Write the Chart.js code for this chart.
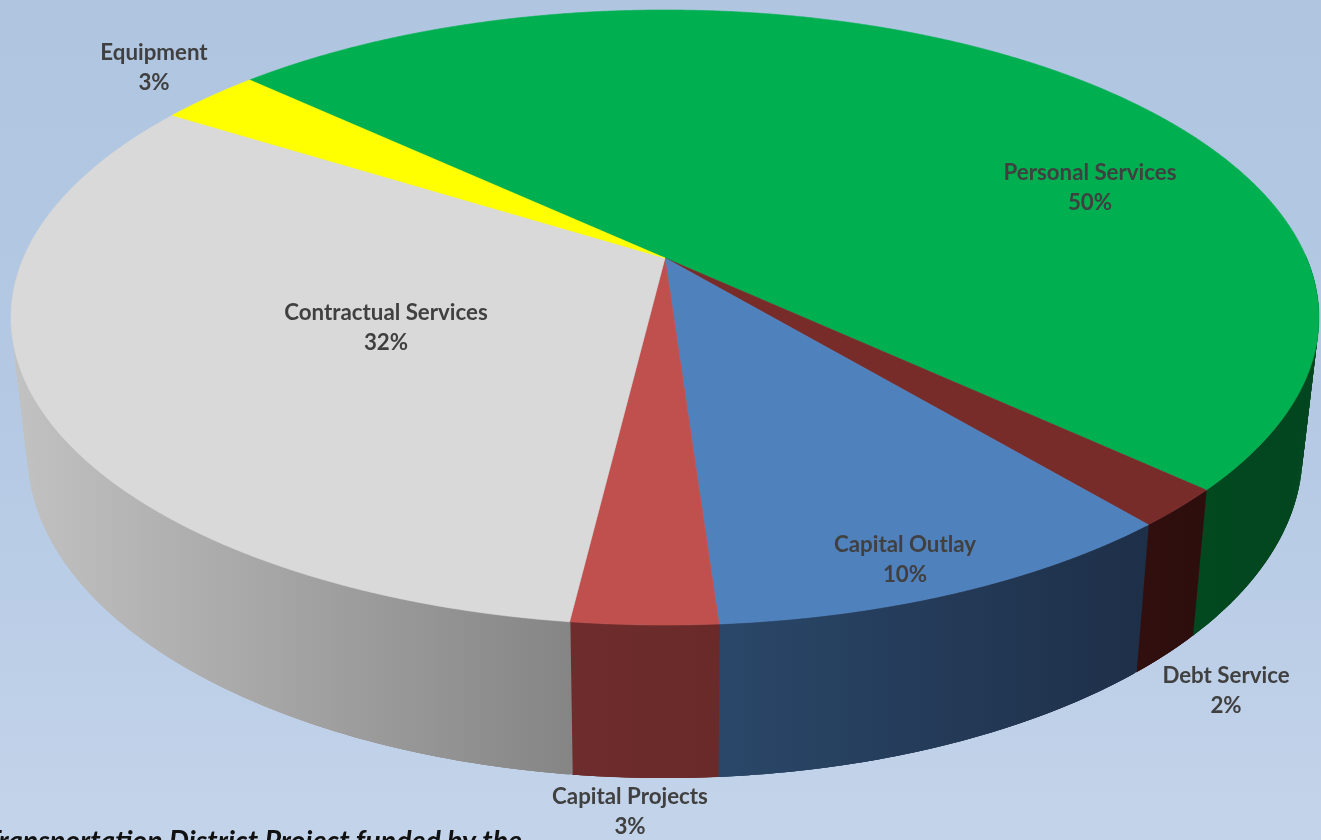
<!DOCTYPE html>
<html>
<head>
<meta charset="utf-8">
<title>Budget by Category</title>
<script src="https://cdn.jsdelivr.net/npm/chart.js@4/dist/chart.umd.js"></script>
<style>
  html, body { margin: 0; padding: 0; width: 1321px; height: 840px; overflow: hidden; }
  canvas { display: block; }
</style>
</head>
<body>
<canvas id="pie" width="1321" height="840"></canvas>
<script>
// Budget shares, clockwise from the rotation angle.
const categories = ['Personal Services', 'Debt Service', 'Capital Outlay', 'Capital Projects', 'Contractual Services', 'Equipment'];
const shares = [50, 2, 10, 3, 32, 3];
const faceColors = ['#00b050', '#772c2a', '#4f81bd', '#c0504d', '#d9d9d9', '#ffff00'];
// Side wall colour at the left and right end of each slice's wall.
const wallColors = [
  ['#02491f', '#02451f'], ['#310f0e', '#2c0e0d'], ['#2a4769', '#1e2f48'],
  ['#6e2c2c', '#6b2a2a'], ['#c2c2c2', '#858585'], ['#999900', '#999900']
];
const footnote = 'Transportation District Project funded by the';

// Label centres on the page, one [x, y] per category.
const labelCentres = [[1090, 187], [1226, 690], [905, 559], [630, 811], [386, 327], [154, 67]];

// Camera used to tilt the disc: unit-disc point to page pixels.
const CAM = { cx: 665, apexY: 258, a: 641.6, b: 296, k: 0.1935, shrink: 0.975, depth: 130, depthFront: 23 };

function projectTop(x, y) {
  const w = 1 - CAM.k * y;
  return [CAM.cx + CAM.a * x / w, CAM.apexY + CAM.b * y / w];
}
// The lower rim follows the upper rim, pulled in slightly and dropped further towards the front.
function projectBottom(x, y) {
  const p = projectTop(x, y);
  return [CAM.cx + (p[0] - CAM.cx) * CAM.shrink, p[1] + CAM.depth + CAM.depthFront * y];
}
function rim(start, end, project) {
  const steps = Math.max(4, Math.ceil((end - start) / 0.004));
  const pts = [];
  for (let i = 0; i <= steps; i++) {
    const t = start + (end - start) * i / steps;
    pts.push(project(Math.cos(t), Math.sin(t)));
  }
  return pts;
}

const tiltedPie = {
  id: 'tiltedPie',
  beforeDraw(chart) {
    const { ctx, width, height } = chart;
    const bg = ctx.createLinearGradient(0, 0, 0, height);
    bg.addColorStop(0, '#afc5e0');
    bg.addColorStop(0.5, '#b5c9e4');
    bg.addColorStop(1, '#c3d4ea');
    ctx.fillStyle = bg;
    ctx.fillRect(0, 0, width, height);
  },
  // The library's arc elements supply each slice's angles; they are painted in perspective here.
  beforeDatasetDraw(chart, args) {
    const { ctx } = chart;
    const arcs = args.meta.data;
    const lap = 0.001;

    // Walls are swept as narrow overlapping quads so the outline follows the tangent
    // between the two rims. Only the part of the rim facing the viewer is painted.
    arcs.forEach((arc, i) => {
      const top = rim(arc.startAngle - lap, arc.endAngle, projectTop);
      const bottom = rim(arc.startAngle - lap, arc.endAngle, projectBottom);
      const xs = [];
      top.forEach((p, s) => { if (p[1] >= CAM.apexY) xs.push(p[0], bottom[s][0]); });
      if (!xs.length) return;
      const g = ctx.createLinearGradient(Math.min(...xs), 0, Math.max(...xs), 0);
      g.addColorStop(0, wallColors[i][0]);
      g.addColorStop(1, wallColors[i][1]);
      ctx.fillStyle = g;
      for (let s = 0; s < top.length - 1; s++) {
        const n = Math.min(s + 3, top.length - 1);
        if (top[s][1] < CAM.apexY && top[n][1] < CAM.apexY) continue;
        ctx.beginPath();
        ctx.moveTo(top[s][0], top[s][1]);
        ctx.lineTo(top[n][0], top[n][1]);
        ctx.lineTo(bottom[n][0], bottom[n][1]);
        ctx.lineTo(bottom[s][0], bottom[s][1]);
        ctx.closePath();
        ctx.fill();
      }
    });

    arcs.forEach((arc, i) => {
      const apex = projectTop(0, 0);
      ctx.beginPath();
      ctx.moveTo(apex[0], apex[1]);
      rim(arc.startAngle, arc.endAngle, projectTop).forEach(p => ctx.lineTo(p[0], p[1]));
      ctx.closePath();
      ctx.fillStyle = faceColors[i];
      ctx.strokeStyle = faceColors[i];
      ctx.lineWidth = 0.6;
      ctx.fill();
      ctx.stroke();
    });
    return false;
  },
  afterDraw(chart) {
    const { ctx } = chart;
    ctx.save();
    ctx.textAlign = 'center';
    ctx.textBaseline = 'middle';
    ctx.font = 'bold 22.3px Lato, "Open Sans", sans-serif';
    ctx.fillStyle = '#404040';
    categories.forEach((name, i) => {
      const [x, y] = labelCentres[i];
      ctx.fillText(name, x, y - 14);
      ctx.fillText(shares[i] + '%', x, y + 16);
    });
    ctx.textAlign = 'left';
    ctx.textBaseline = 'alphabetic';
    ctx.font = 'italic bold 28.5px Lato, "Open Sans", sans-serif';
    ctx.fillStyle = '#111111';
    ctx.fillText(footnote, -15, 850.5);
    ctx.restore();
  }
};

new Chart(document.getElementById('pie'), {
  type: 'pie',
  data: {
    labels: categories,
    datasets: [{ data: shares, backgroundColor: faceColors, borderWidth: 0 }]
  },
  options: {
    responsive: false,
    animation: false,
    rotation: -47.1,
    plugins: { legend: { display: false }, tooltip: { enabled: false } }
  },
  plugins: [tiltedPie]
});
</script>
</body>
</html>
